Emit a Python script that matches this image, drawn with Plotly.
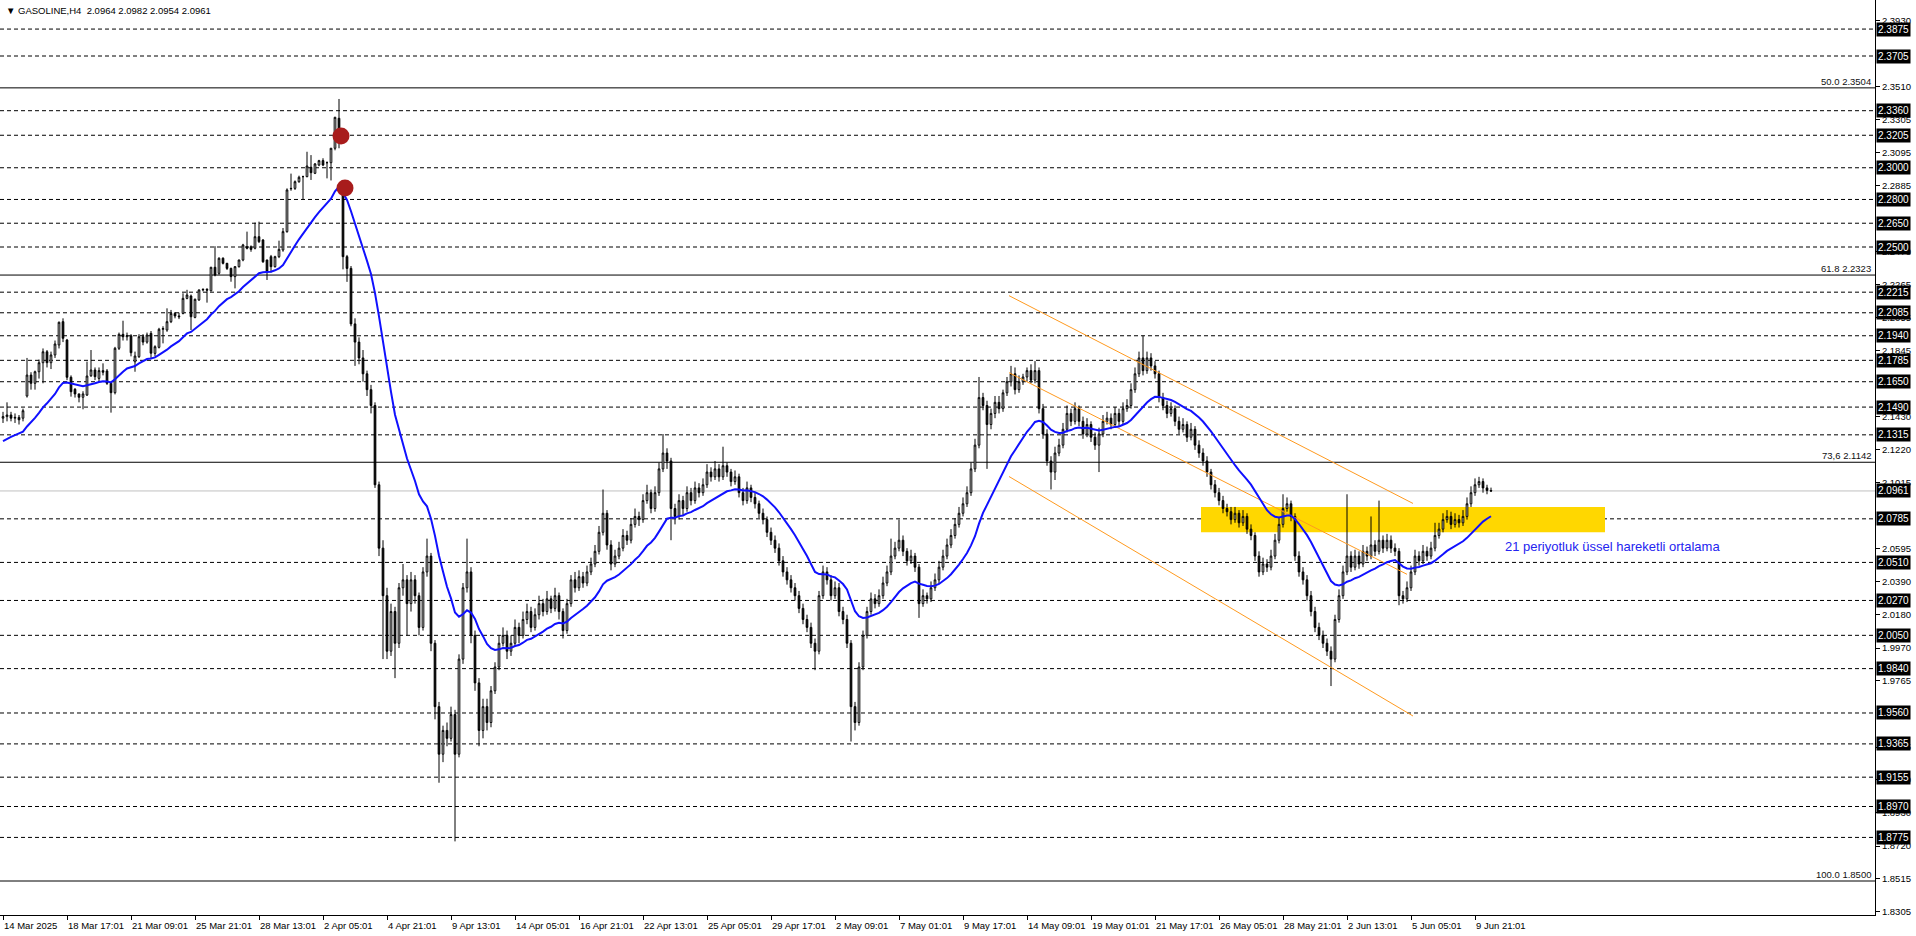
import plotly.graph_objects as go

# ---------------- data ----------------
opens = [2.1420,2.1430,2.1440,2.1420,2.1425,2.1420,2.1560,2.1692,2.1640,2.1713,
         2.1770,2.1839,2.1770,2.1819,2.1882,2.2029,2.1913,2.1678,2.1602,2.1573,
         2.1552,2.1566,2.1688,2.1724,2.1671,2.1720,2.1718,2.1640,2.1581,2.1861,
         2.1949,2.1934,2.1940,2.1776,2.1808,2.1934,2.1900,2.1955,2.1829,2.1867,
         2.1981,2.1976,2.2029,2.2081,2.2065,2.2081,2.2176,2.2191,2.2056,2.2166,
         2.2229,2.2233,2.2224,2.2372,2.2334,2.2429,2.2397,2.2365,2.2313,2.2376,
         2.2418,2.2502,2.2502,2.2492,2.2565,2.2544,2.2418,2.2439,2.2376,2.2439,
         2.2481,2.2597,2.2870,2.2870,2.2912,2.2944,2.2944,2.3003,2.2965,2.3017,
         2.3045,2.3032,2.3032,2.3123,2.3312,2.2860,2.2439,
         2.2365,2.2015,2.1900,2.1800,2.1700,2.1600,2.1500,2.1000,2.0600,2.0300,
         1.9950,2.0200,2.0000,2.0350,2.0400,2.0250,2.0400,2.0300,2.0100,2.0450,
         2.0550,2.0000,1.9600,1.9300,1.9450,1.9400,1.9550,1.9300,1.9900,2.0350,
         2.0450,2.0050,1.9750,1.9450,1.9600,1.9500,1.9700,1.9850,2.0000,2.0050,
         1.9950,2.0000,2.0100,2.0050,2.0150,2.0200,2.0100,2.0180,2.0250,2.0200,
         2.0280,2.0220,2.0300,2.0200,2.0080,2.0250,2.0400,2.0350,2.0420,2.0380,
         2.0450,2.0500,2.0580,2.0700,2.0820,2.0620,2.0500,2.0550,2.0600,2.0680,
         2.0650,2.0750,2.0800,2.0780,2.0900,2.0950,2.0850,2.0950,2.1100,2.1200,
         2.1150,2.0850,2.0800,2.0900,2.0850,2.0950,2.0900,2.0980,2.0950,2.1000,
         2.1080,2.1050,2.1100,2.1050,2.1120,2.1080,2.1020,2.1050,2.0950,2.0900,
         2.0980,2.0920,2.0880,2.0820,2.0780,2.0700,2.0650,2.0600,2.0520,2.0450,
         2.0400,2.0350,2.0300,2.0220,2.0150,2.0100,2.0000,1.9950,2.0300,2.0450,
         2.0400,2.0300,2.0350,2.0200,2.0150,2.0000,1.9600,1.9500,1.9850,2.0050,
         2.0200,2.0280,2.0250,2.0300,2.0380,2.0450,2.0550,2.0600,2.0650,2.0580,
         2.0520,2.0550,2.0480,2.0250,2.0300,2.0280,2.0350,2.0400,2.0480,2.0550,
         2.0620,2.0680,2.0750,2.0820,2.0880,2.0950,2.1100,2.1250,2.1550,2.1500,
         2.1380,2.1450,2.1520,2.1480,2.1580,2.1650,2.1700,2.1600,2.1650,2.1680,
         2.1720,2.1660,2.1720,2.1480,2.1320,2.1150,2.1080,2.1200,2.1250,2.1350,
         2.1450,2.1400,2.1480,2.1400,2.1320,2.1380,2.1300,2.1250,2.1320,2.1400,
         2.1420,2.1380,2.1450,2.1400,2.1480,2.1500,2.1600,2.1700,2.1800,2.1720,
         2.1800,2.1750,2.1700,2.1550,2.1500,2.1450,2.1480,2.1400,2.1350,2.1380,
         2.1300,2.1350,2.1250,2.1200,2.1150,2.1080,2.1000,2.0950,2.0900,2.0850,
         2.0830,2.0780,2.0820,2.0760,2.0800,2.0720,2.0680,2.0550,2.0450,2.0500,
         2.0480,2.0550,2.0650,2.0750,2.0850,2.0880,2.0800,2.0550,2.0450,2.0400,
         2.0300,2.0200,2.0100,2.0050,2.0000,1.9950,1.9900,2.0150,2.0300,2.0450,
         2.0550,2.0480,2.0550,2.0500,2.0580,2.0550,2.0620,2.0580,2.0650,2.0600,
         2.0650,2.0600,2.0580,2.0300,2.0280,2.0350,2.0450,2.0550,2.0520,2.0580,
         2.0550,2.0600,2.0680,2.0720,2.0780,2.0800,2.0750,2.0780,2.0760,2.0800,
         2.0880,2.0950,2.1000,2.1020,2.0980,2.0964]
highs = [2.1460,2.1520,2.1460,2.1450,2.1440,2.1480,2.1800,2.1710,2.1720,2.1790,
         2.1860,2.1850,2.1840,2.1910,2.2030,2.2050,2.1920,2.1690,2.1610,2.1575,
         2.1590,2.1777,2.1850,2.1740,2.1740,2.1766,2.1730,2.1650,2.1870,2.1960,
         2.2035,2.1960,2.1950,2.1840,2.1950,2.1950,2.1960,2.1970,2.1880,2.1990,
         2.2000,2.2113,2.2103,2.2090,2.2085,2.2208,2.2230,2.2200,2.2175,2.2232,
         2.2240,2.2240,2.2375,2.2505,2.2435,2.2435,2.2400,2.2370,2.2380,2.2420,
         2.2520,2.2597,2.2510,2.2654,2.2660,2.2550,2.2420,2.2450,2.2445,2.2540,
         2.2620,2.2870,2.2963,2.2920,2.2950,2.2950,2.3101,2.3080,2.3030,2.3050,
         2.3060,2.3040,2.3125,2.3322,2.3434,2.2870,2.2450,
         2.2380,2.2050,2.1930,2.1850,2.1720,2.1630,2.1520,2.1020,2.0650,2.0350,
         2.0250,2.0230,2.0380,2.0500,2.0430,2.0450,2.0430,2.0320,2.0480,2.0660,
         2.0570,2.0020,1.9630,1.9480,1.9500,1.9600,1.9580,1.9930,2.0380,2.0660,
         2.0480,2.0080,1.9780,1.9650,1.9650,1.9730,1.9880,2.0050,2.0100,2.0080,
         2.0050,2.0150,2.0130,2.0200,2.0250,2.0230,2.0220,2.0300,2.0280,2.0330,
         2.0300,2.0350,2.0320,2.0220,2.0280,2.0430,2.0450,2.0460,2.0450,2.0490,
         2.0540,2.0620,2.0740,2.0970,2.0840,2.0650,2.0590,2.0640,2.0720,2.0710,
         2.0790,2.0850,2.0830,2.0940,2.1000,2.0970,2.0990,2.1140,2.1320,2.1230,
         2.1170,2.0880,2.0940,2.0930,2.0990,2.0980,2.1020,2.1010,2.1040,2.1130,
         2.1110,2.1150,2.1130,2.1240,2.1140,2.1100,2.1090,2.1070,2.0980,2.1020,
         2.1000,2.0950,2.0900,2.0850,2.0800,2.0730,2.0680,2.0630,2.0550,2.0480,
         2.0430,2.0380,2.0330,2.0250,2.0180,2.0130,2.0030,2.0330,2.0490,2.0480,
         2.0430,2.0390,2.0380,2.0230,2.0180,2.0020,1.9630,1.9880,2.0080,2.0230,
         2.0320,2.0310,2.0340,2.0420,2.0490,2.0660,2.0640,2.0780,2.0680,2.0600,
         2.0590,2.0570,2.0500,2.0340,2.0320,2.0390,2.0440,2.0520,2.0590,2.0660,
         2.0720,2.0790,2.0860,2.0920,2.0990,2.1140,2.1290,2.1680,2.1580,2.1530,
         2.1480,2.1560,2.1560,2.1600,2.1680,2.1750,2.1740,2.1690,2.1700,2.1740,
         2.1760,2.1780,2.1740,2.1510,2.1350,2.1180,2.1240,2.1290,2.1390,2.1500,
         2.1480,2.1520,2.1500,2.1430,2.1420,2.1400,2.1330,2.1360,2.1440,2.1460,
         2.1450,2.1490,2.1480,2.1520,2.1540,2.1640,2.1740,2.1840,2.1940,2.1840,
         2.1830,2.1780,2.1720,2.1580,2.1530,2.1520,2.1500,2.1430,2.1420,2.1400,
         2.1390,2.1370,2.1280,2.1230,2.1180,2.1100,2.1030,2.0980,2.0930,2.0880,
         2.0860,2.0860,2.0840,2.0840,2.0820,2.0750,2.0700,2.0580,2.0540,2.0530,
         2.0590,2.0690,2.0790,2.0940,2.0920,2.0900,2.0820,2.0580,2.0480,2.0430,
         2.0330,2.0230,2.0130,2.0080,2.0030,1.9980,2.0180,2.0340,2.0490,2.0940,
         2.0580,2.0590,2.0580,2.0620,2.0610,2.0800,2.0650,2.0900,2.0680,2.0690,
         2.0680,2.0630,2.0600,2.0330,2.0390,2.0490,2.0590,2.0580,2.0620,2.0610,
         2.0640,2.0760,2.0760,2.0820,2.0840,2.0830,2.0820,2.0810,2.0840,2.0920,
         2.0990,2.1040,2.1050,2.1040,2.1000,2.0982]
lows = [2.1390,2.1400,2.1400,2.1390,2.1380,2.1400,2.1550,2.1600,2.1600,2.1670,
        2.1640,2.1740,2.1730,2.1800,2.1860,2.1900,2.1660,2.1556,2.1550,2.1520,
        2.1476,2.1560,2.1680,2.1660,2.1650,2.1690,2.1630,2.1455,2.1570,2.1850,
        2.1910,2.1910,2.1810,2.1713,2.1800,2.1880,2.1890,2.1800,2.1810,2.1860,
        2.1892,2.1965,2.2020,2.2050,2.2045,2.2075,2.2170,2.1976,2.2050,2.2160,
        2.2220,2.2149,2.2220,2.2315,2.2325,2.2390,2.2355,2.2281,2.2239,2.2370,
        2.2410,2.2485,2.2470,2.2485,2.2525,2.2400,2.2292,2.2340,2.2370,2.2430,
        2.2470,2.2590,2.2855,2.2860,2.2905,2.2797,2.2940,2.2923,2.2960,2.3010,
        2.3010,2.2933,2.2920,2.3110,2.3123,2.2359,2.2280,
        2.2000,2.1750,2.1760,2.1650,2.1560,2.1450,2.0980,2.0550,1.9900,1.9900,
        1.9920,1.9780,1.9970,2.0300,2.0050,2.0200,2.0250,2.0050,2.0080,2.0420,
        1.9950,1.9520,1.9120,1.9250,1.9350,1.9380,1.8750,1.9280,1.9870,2.0320,
        2.0000,1.9700,1.9350,1.9400,1.9450,1.9470,1.9680,1.9830,1.9980,1.9900,
        1.9920,1.9980,2.0000,2.0030,2.0120,2.0070,2.0080,2.0150,2.0170,2.0180,
        2.0190,2.0200,2.0150,2.0030,2.0060,2.0230,2.0320,2.0330,2.0350,2.0360,
        2.0430,2.0480,2.0560,2.0680,2.0590,2.0460,2.0480,2.0530,2.0580,2.0620,
        2.0630,2.0730,2.0740,2.0760,2.0880,2.0820,2.0830,2.0930,2.1080,2.1100,
        2.0650,2.0750,2.0780,2.0810,2.0830,2.0870,2.0880,2.0920,2.0930,2.0980,
        2.1020,2.1030,2.1020,2.1030,2.1050,2.0990,2.1000,2.0920,2.0870,2.0880,
        2.0890,2.0850,2.0790,2.0750,2.0670,2.0620,2.0570,2.0490,2.0420,2.0370,
        2.0320,2.0270,2.0190,2.0120,2.0070,1.9970,1.9830,1.9930,2.0280,2.0370,
        2.0270,2.0280,2.0170,2.0120,1.9970,1.9380,1.9450,1.9480,1.9830,2.0030,
        2.0180,2.0220,2.0230,2.0280,2.0360,2.0430,2.0530,2.0580,2.0550,2.0490,
        2.0500,2.0450,2.0160,2.0230,2.0250,2.0260,2.0330,2.0380,2.0460,2.0530,
        2.0600,2.0660,2.0730,2.0800,2.0860,2.0930,2.1080,2.1230,2.1470,2.1100,
        2.1350,2.1420,2.1450,2.1460,2.1560,2.1620,2.1570,2.1580,2.1630,2.1650,
        2.1640,2.1640,2.1450,2.1290,2.1120,2.0970,2.1030,2.1180,2.1230,2.1330,
        2.1370,2.1380,2.1370,2.1290,2.1300,2.1270,2.1220,2.1080,2.1300,2.1380,
        2.1350,2.1360,2.1370,2.1380,2.1460,2.1480,2.1580,2.1680,2.1690,2.1700,
        2.1720,2.1670,2.1520,2.1470,2.1420,2.1430,2.1370,2.1320,2.1330,2.1270,
        2.1280,2.1220,2.1170,2.1120,2.1050,2.0970,2.0920,2.0870,2.0820,2.0800,
        2.0750,2.0760,2.0730,2.0740,2.0690,2.0650,2.0520,2.0420,2.0430,2.0450,
        2.0460,2.0530,2.0630,2.0730,2.0830,2.0770,2.0520,2.0420,2.0370,2.0270,
        2.0170,2.0070,2.0020,1.9970,1.9920,1.9730,1.9880,2.0130,2.0280,2.0430,
        2.0450,2.0460,2.0470,2.0480,2.0520,2.0530,2.0550,2.0560,2.0570,2.0580,
        2.0570,2.0550,2.0240,2.0250,2.0260,2.0330,2.0430,2.0490,2.0500,2.0520,
        2.0530,2.0580,2.0660,2.0700,2.0760,2.0720,2.0730,2.0730,2.0740,2.0780,
        2.0860,2.0930,2.0980,2.0950,2.0940,2.0954]
closes = [2.1430,2.1440,2.1420,2.1425,2.1410,2.1467,2.1692,2.1640,2.1713,2.1770,
          2.1839,2.1770,2.1819,2.1888,2.2025,2.1924,2.1678,2.1587,2.1573,2.1552,
          2.1573,2.1686,2.1724,2.1682,2.1720,2.1710,2.1640,2.1581,2.1861,2.1949,
          2.1934,2.1940,2.1833,2.1812,2.1934,2.1900,2.1945,2.1830,2.1871,2.1981,
          2.1985,2.2029,2.2081,2.2065,2.2060,2.2176,2.2197,2.2060,2.2170,2.2229,
          2.2232,2.2228,2.2372,2.2323,2.2429,2.2397,2.2365,2.2313,2.2376,2.2418,
          2.2513,2.2492,2.2485,2.2565,2.2534,2.2407,2.2344,2.2376,2.2439,2.2485,
          2.2597,2.2860,2.2868,2.2912,2.2940,2.2944,2.3011,2.2969,2.3024,2.3045,
          2.3017,2.3032,2.3123,2.3318,2.3165,2.2439,2.2365,
          2.2015,2.1900,2.1800,2.1700,2.1600,2.1500,2.1000,2.0600,2.0300,1.9950,
          2.0200,2.0000,2.0350,2.0400,2.0250,2.0400,2.0300,2.0100,2.0450,2.0550,
          2.0000,1.9600,1.9300,1.9450,1.9400,1.9550,1.9300,1.9900,2.0350,2.0450,
          2.0050,1.9750,1.9450,1.9600,1.9500,1.9700,1.9850,2.0000,2.0050,1.9950,
          2.0000,2.0100,2.0050,2.0150,2.0200,2.0100,2.0180,2.0250,2.0200,2.0280,
          2.0220,2.0300,2.0200,2.0080,2.0250,2.0400,2.0350,2.0420,2.0380,2.0450,
          2.0500,2.0580,2.0700,2.0820,2.0620,2.0500,2.0550,2.0600,2.0680,2.0650,
          2.0750,2.0800,2.0780,2.0900,2.0950,2.0850,2.0950,2.1100,2.1200,2.1150,
          2.0850,2.0800,2.0900,2.0850,2.0950,2.0900,2.0980,2.0950,2.1000,2.1080,
          2.1050,2.1100,2.1050,2.1120,2.1080,2.1020,2.1050,2.0950,2.0900,2.0980,
          2.0920,2.0880,2.0820,2.0780,2.0700,2.0650,2.0600,2.0520,2.0450,2.0400,
          2.0350,2.0300,2.0220,2.0150,2.0100,2.0000,1.9950,2.0300,2.0450,2.0400,
          2.0300,2.0350,2.0200,2.0150,2.0000,1.9600,1.9500,1.9850,2.0050,2.0200,
          2.0280,2.0250,2.0300,2.0380,2.0450,2.0550,2.0600,2.0650,2.0580,2.0520,
          2.0550,2.0480,2.0250,2.0300,2.0280,2.0350,2.0400,2.0480,2.0550,2.0620,
          2.0680,2.0750,2.0820,2.0880,2.0950,2.1100,2.1250,2.1550,2.1500,2.1380,
          2.1450,2.1520,2.1480,2.1580,2.1650,2.1700,2.1600,2.1650,2.1680,2.1720,
          2.1660,2.1720,2.1480,2.1320,2.1150,2.1080,2.1200,2.1250,2.1350,2.1450,
          2.1400,2.1480,2.1400,2.1320,2.1380,2.1300,2.1250,2.1320,2.1400,2.1420,
          2.1380,2.1450,2.1400,2.1480,2.1500,2.1600,2.1700,2.1800,2.1720,2.1800,
          2.1750,2.1700,2.1550,2.1500,2.1450,2.1480,2.1400,2.1350,2.1380,2.1300,
          2.1350,2.1250,2.1200,2.1150,2.1080,2.1000,2.0950,2.0900,2.0850,2.0830,
          2.0780,2.0820,2.0760,2.0800,2.0720,2.0680,2.0550,2.0450,2.0500,2.0480,
          2.0550,2.0650,2.0750,2.0850,2.0880,2.0800,2.0550,2.0450,2.0400,2.0300,
          2.0200,2.0100,2.0050,2.0000,1.9950,1.9900,2.0150,2.0300,2.0450,2.0550,
          2.0480,2.0550,2.0500,2.0580,2.0550,2.0620,2.0580,2.0650,2.0600,2.0650,
          2.0600,2.0580,2.0300,2.0280,2.0350,2.0450,2.0550,2.0520,2.0580,2.0550,
          2.0600,2.0680,2.0720,2.0780,2.0800,2.0750,2.0780,2.0760,2.0800,2.0880,
          2.0950,2.1000,2.1020,2.0980,2.0964,2.0961]

ema_seed = 2.1260
ema_period = 21

date_labels = ["14 Mar 2025", "18 Mar 17:01", "21 Mar 09:01", "25 Mar 21:01", "28 Mar 13:01",
               "2 Apr 05:01", "4 Apr 21:01", "9 Apr 13:01", "14 Apr 05:01", "16 Apr 21:01",
               "22 Apr 13:01", "25 Apr 05:01", "29 Apr 17:01", "2 May 09:01", "7 May 01:01",
               "9 May 17:01", "14 May 09:01", "19 May 01:01", "21 May 17:01", "26 May 05:01",
               "28 May 21:01", "2 Jun 13:01", "5 Jun 05:01", "9 Jun 21:01"]
bars_per_label = 16

dashed_levels = [2.3875, 2.3705, 2.3360, 2.3205, 2.3000, 2.2800, 2.2650, 2.2500, 2.2215,
                 2.2085, 2.1940, 2.1785, 2.1650, 2.1490, 2.1315, 2.0785, 2.0510, 2.0270,
                 2.0050, 1.9840, 1.9560, 1.9365, 1.9155, 1.8970, 1.8775]
fib_levels = [2.3504, 2.2323, 2.1142, 1.8500]
fib_texts = ["50.0 2.3504", "61.8 2.2323", "73,6 2.1142", "100.0 1.8500"]
axis_ticks = [2.3930, 2.3510, 2.3305, 2.3095, 2.2885, 2.2470, 2.2265, 2.2055,
              2.1845, 2.1430, 2.1220, 2.1015, 2.0595, 2.0390, 2.0180,
              1.9970, 1.9765, 1.9345, 1.9140, 1.8930, 1.8720, 1.8515, 1.8305]
last_price = 2.0961
title_text = "▼ GASOLINE,H4  2.0964 2.0982 2.0954 2.0961"

channel_x = [251.5, 352.5]
channel_upper = [2.2193, 2.0882]
channel_middle_x = [251.5, 351.0]
channel_middle = [2.1707, 2.0435]
channel_lower = [2.1052, 1.9541]

zone_x = [299.5, 400.5]
zone_y = [2.0700, 2.0860]

marker_idx = [84.5, 85.5]
marker_price = [2.3200, 2.2872]

ema_note = "21 periyotluk üssel hareketli ortalama"
ema_note_pos = (375, 2.0610)

y_range = [1.82855, 2.40584]
x_range = [-0.75, 468.0]

# ---------------- figure ----------------
n = len(closes)
idx = list(range(n))
alpha = 2.0 / (ema_period + 1)
ema = []
prev = ema_seed
for c in closes:
    prev = prev + alpha * (c - prev)
    ema.append(prev)

FONT = "Liberation Sans, Arial, sans-serif"
fig = go.Figure()

shapes = []
shapes.append(dict(type="rect", xref="x", yref="y", x0=zone_x[0], x1=zone_x[1],
                   y0=zone_y[0], y1=zone_y[1], fillcolor="#FFD700", line=dict(width=0),
                   layer="below"))
for lv in dashed_levels:
    shapes.append(dict(type="line", xref="paper", yref="y", x0=0, x1=1, y0=lv, y1=lv,
                       line=dict(color="black", width=1, dash="4px,3px"), layer="below"))
for lv in fib_levels:
    shapes.append(dict(type="line", xref="paper", yref="y", x0=0, x1=1, y0=lv, y1=lv,
                       line=dict(color="black", width=1), layer="below"))
shapes.append(dict(type="line", xref="paper", yref="y", x0=0, x1=1, y0=last_price,
                   y1=last_price, line=dict(color="#C0C0C0", width=1), layer="below"))

for xs, ys in ((channel_x, channel_upper), (channel_middle_x, channel_middle),
               (channel_x, channel_lower)):
    fig.add_trace(go.Scatter(x=xs, y=ys, mode="lines",
                             line=dict(color="#FF9A1F", width=1),
                             hoverinfo="skip", showlegend=False))

fig.add_trace(go.Candlestick(
    x=idx, open=opens, high=highs, low=lows, close=closes,
    increasing=dict(line=dict(color="black", width=1), fillcolor="white"),
    decreasing=dict(line=dict(color="black", width=1), fillcolor="black"),
    whiskerwidth=0, showlegend=False, hoverinfo="skip"))

fig.add_trace(go.Scatter(x=idx, y=ema, mode="lines",
                         line=dict(color="#1010FF", width=2),
                         hoverinfo="skip", showlegend=False))

fig.add_trace(go.Scatter(x=marker_idx, y=marker_price, mode="markers",
                         marker=dict(color="#A81C1C", size=17, line=dict(width=0)),
                         hoverinfo="skip", showlegend=False))

annotations = []
for k, lab in enumerate(date_labels):
    annotations.append(dict(x=k * bars_per_label, xref="x", y=0, yref="paper",
                            text=lab, showarrow=False, xanchor="left", yanchor="top",
                            xshift=-1, yshift=-3, font=dict(family=FONT, size=9.5, color="black")))
for lv in dashed_levels + [last_price]:
    annotations.append(dict(x=1, xref="paper", y=lv, yref="y", text="%.4f" % lv,
                            showarrow=False, xanchor="left", yanchor="middle", xshift=1,
                            bgcolor="black", borderpad=1,
                            font=dict(family=FONT, size=10, color="white")))
for lv, t in zip(fib_levels, fib_texts):
    annotations.append(dict(x=1, xref="paper", y=lv, yref="y", text=t, showarrow=False,
                            xanchor="right", yanchor="bottom", xshift=-2, yshift=-1,
                            font=dict(family=FONT, size=9.5, color="#101010")))
annotations.append(dict(x=0, xref="paper", y=1, yref="paper", text=title_text,
                        showarrow=False, xanchor="left", yanchor="top", xshift=4, yshift=-3,
                        font=dict(family=FONT, size=9.5, color="black")))
annotations.append(dict(x=ema_note_pos[0], xref="x", y=ema_note_pos[1], yref="y",
                        text=ema_note, showarrow=False, xanchor="left", yanchor="middle",
                        font=dict(family=FONT, size=13, color="#2424F0")))

fig.update_layout(
    width=1916, height=936,
    margin=dict(l=0, r=41, t=0, b=21),
    paper_bgcolor="white", plot_bgcolor="white",
    shapes=shapes, annotations=annotations,
    showlegend=False,
    boxgap=0.4,
    xaxis=dict(range=x_range, showgrid=False, zeroline=False, rangeslider=dict(visible=False),
               tickvals=[k * bars_per_label for k in range(len(date_labels))],
               showticklabels=False, ticks="outside", ticklen=4, tickcolor="black",
               showline=True, linecolor="black", linewidth=1, mirror=False),
    yaxis=dict(range=y_range, side="right", showgrid=False, zeroline=False,
               tickvals=axis_ticks, ticktext=["%.4f" % v for v in axis_ticks],
               ticks="outside", ticklen=4, tickcolor="black",
               tickfont=dict(family=FONT, size=9.5, color="black"),
               showline=True, linecolor="black", linewidth=1, mirror=True),
)

fig.write_html("out.html", config={"displayModeBar": False},
               post_script="document.body.style.margin='0px';")
